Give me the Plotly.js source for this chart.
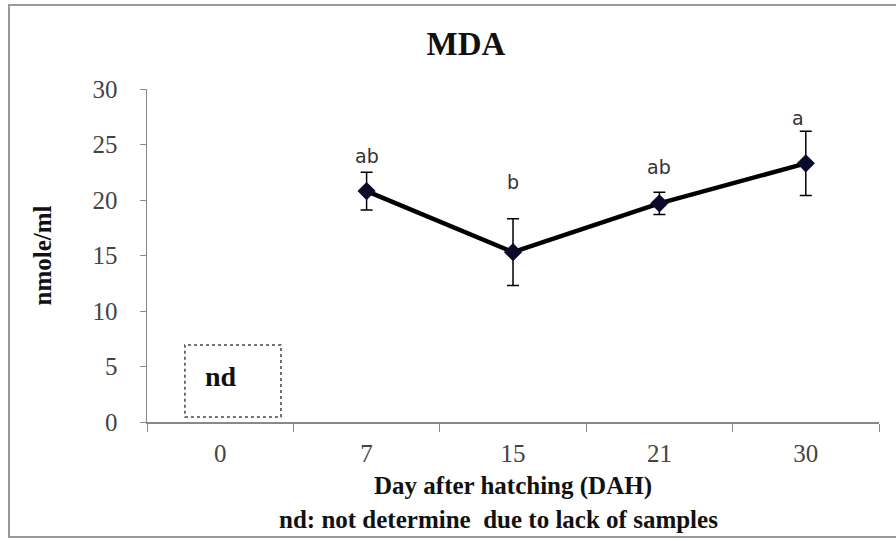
<!DOCTYPE html>
<html>
<head>
<meta charset="utf-8">
<script src="https://cdn.plot.ly/plotly-3.0.1.min.js"></script>
<style>html,body{margin:0;padding:0;background:#fff;}#chart{width:896px;height:541px;}</style>
</head>
<body>
<div id="chart"></div>
<script>
// Data
const categories = ['0', '7', '15', '21', '30'];
const days = ['7', '15', '21', '30'];
const mdaValues = [20.8, 15.3, 19.7, 23.3];
const mdaErrors = [1.7, 3.0, 1.0, 2.9];
const letters = ['ab', 'b', 'ab', 'a'];
const letterY = [24.0, 21.6, 23.0, 27.4];

const serif = 'Liberation Serif, Times New Roman, serif';

const trace = {
  x: days,
  y: mdaValues,
  type: 'scatter',
  mode: 'lines+markers',
  line: {color: '#000000', width: 4.5},
  marker: {symbol: 'diamond', size: 14, color: '#0a0a2a'},
  error_y: {type: 'data', array: mdaErrors, visible: true, color: '#000000', thickness: 1.5, width: 6},
  showlegend: false,
  hoverinfo: 'skip'
};

// category positions by index (category strings look numeric)
const annotations = letters.map((t, i) => ({
  x: categories.indexOf(days[i]), y: letterY[i], xref: 'x', yref: 'y', text: t, showarrow: false,
  xshift: i === 3 ? -8 : 0,
  font: {family: 'DejaVu Sans, Verdana, sans-serif', size: 19, color: '#333333'}
}));

annotations.push({
  x: 0, y: 4.1, xref: 'x', yref: 'y', text: '<b>nd</b>', showarrow: false,
  xshift: 1,
  font: {family: serif, size: 28, color: '#111111'}
});
annotations.push({
  x: 0.48, y: -0.294, xref: 'paper', yref: 'paper', text: '<b>nd: not determine  due to lack of samples</b>',
  showarrow: false, yanchor: 'middle',
  font: {family: serif, size: 25, color: '#111111'}
});

const layout = {
  width: 896, height: 541,
  margin: {l: 147, r: 17, t: 89, b: 119},
  paper_bgcolor: '#ffffff', plot_bgcolor: '#ffffff',
  title: {text: '<b>MDA</b>', x: 0.52, xanchor: 'center', y: 0.919, yanchor: 'middle',
          font: {family: serif, size: 33, color: '#111111'}},
  xaxis: {
    type: 'category', categoryorder: 'array', categoryarray: categories,
    range: [-0.5, 4.5], tickson: 'boundaries', ticks: 'outside', ticklen: 8, tickcolor: '#888888',
    showline: true, linecolor: '#888888', linewidth: 1.5, showgrid: false, zeroline: false,
    tickfont: {family: serif, size: 25, color: '#444444'}, ticklabelstandoff: 8,
    title: {text: '<b>Day after hatching (DAH)</b>', standoff: 11,
            font: {family: serif, size: 25, color: '#111111'}}
  },
  yaxis: {
    range: [0, 30], dtick: 5, ticks: 'outside', ticklen: 6, tickcolor: '#888888',
    showline: true, linecolor: '#888888', linewidth: 1.5, showgrid: false, zeroline: false,
    tickfont: {family: serif, size: 25, color: '#444444'}, ticklabelstandoff: 17,
    title: {text: '<b>nmole/ml</b>', standoff: 34, font: {family: serif, size: 25, color: '#111111'}}
  },
  shapes: [
    {type: 'rect', xref: 'x', yref: 'y', x0: -0.241, x1: 0.415, y0: 0.45, y1: 6.94,
     line: {color: '#444444', width: 1.5, dash: 'dot'}, fillcolor: 'rgba(0,0,0,0)'},
    {type: 'rect', xref: 'paper', yref: 'paper',
     x0: (9 - 147) / 732, x1: (900 - 147) / 732, y0: -(537 - 422) / 333, y1: 1 + (89 - 5) / 333,
     line: {color: '#999999', width: 2}, fillcolor: 'rgba(0,0,0,0)', layer: 'below'}
  ],
  annotations: annotations
};

Plotly.newPlot('chart', [trace], layout, {displayModeBar: false, staticPlot: true});
</script>
</body>
</html>
